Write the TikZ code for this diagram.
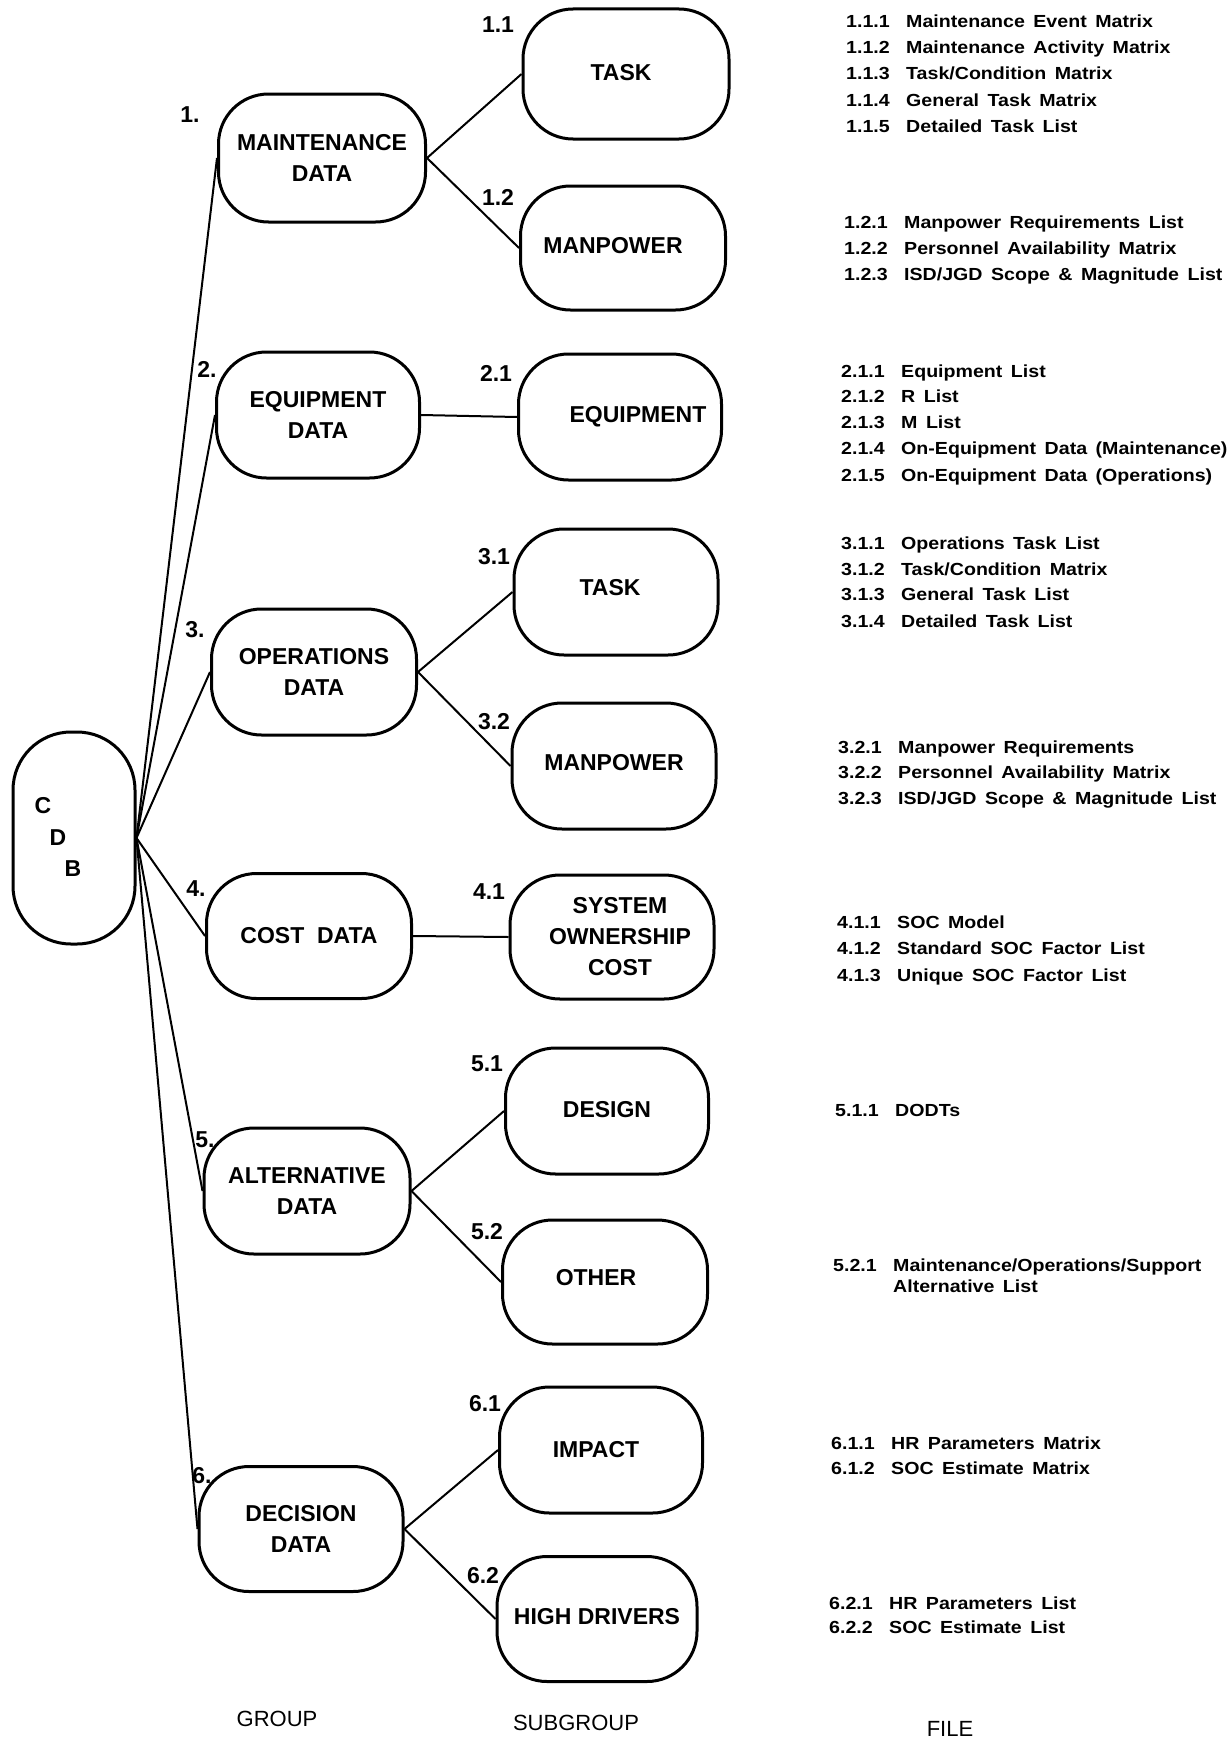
\documentclass[tikz,border=0pt]{standalone}
\usepackage{fontspec}
\setmainfont{Liberation Sans}
\newfontfamily\flfam[FakeStretch=1.12]{Liberation Sans}
\newcommand\bxfont{\fontsize{23}{31}\selectfont\bfseries}
\newcommand\flfont{\flfam\fontsize{17.5}{26}\selectfont\bfseries\spaceskip=8.5pt\relax}
\newcommand\btfont{\fontsize{22}{26}\selectfont}
\newcommand\fnum[1]{\makebox[60pt][l]{#1}}
\begin{document}
\begin{tikzpicture}[x=1pt,y=-1pt,
  bx/.style={draw, line width=3pt, rounded corners=50pt, minimum width=205pt,
    minimum height=126pt, inner sep=0pt, align=center, font=\bxfont},
  conn/.style={line width=2pt},
  num/.style={font=\bxfont, inner sep=0pt},
  fl/.style={anchor=base west, inner sep=0pt, font=\flfont, align=left},
  bt/.style={font=\btfont, inner sep=0pt}]
\useasboundingbox (0,0) rectangle (1228,1745);

% CDB
\node[draw, line width=3pt, rounded corners=58pt, minimum width=122pt,
  minimum height=212pt, inner sep=0pt] (cdb) at (74,838) {};
\node[num] (lc) at (43,806) {C};
\node[num] (ld) at (58,838) {D};
\node[num] (lb) at (73,869) {B};

% groups
\node[bx, minimum width=207pt, minimum height=128pt] (g1) at (322,158) {MAINTENANCE\\DATA};
\node[bx, minimum width=203pt] (g2) at (318,415) {\raisebox{0pt}{EQUIPMENT}\\DATA};
\node[bx] (g3) at (314,672) {OPERATIONS\\DATA};
\node[bx, minimum height=125pt] (g4) at (309,936) {COST\ \ DATA};
\node[bx, minimum width=206pt] (g5) at (307,1191) {ALTERNATIVE\\DATA};
\node[bx, minimum width=204pt, minimum height=125pt] (g6) at (301,1529) {DECISION\\DATA};

% subgroups
\node[bx, minimum width=206pt, minimum height=130pt] (s11) at (626,74) {\raisebox{4pt}{TASK}\hspace*{10pt}};
\node[bx, minimum height=124pt] (s12) at (623,248) {\raisebox{5pt}{MANPOWER}\hspace*{20pt}};
\node[bx, minimum width=203pt] (s21) at (620,417) {\hspace*{36pt}EQUIPMENT};
\node[bx, minimum width=204pt] (s31) at (616,592) {\raisebox{10pt}{TASK}\hspace*{12pt}};
\node[bx, minimum width=204pt] (s32) at (614,766) {\raisebox{8pt}{MANPOWER}};
\node[bx, minimum width=204pt, minimum height=124pt] (s41) at (612,937) {\hspace*{16pt}SYSTEM\\\hspace*{16pt}OWNERSHIP\\\hspace*{16pt}COST};
\node[bx, minimum width=203pt] (s51) at (607,1111) {\raisebox{4pt}{DESIGN}};
\node[bx, minimum height=124pt] (s52) at (605,1282) {\raisebox{10pt}{OTHER}\hspace*{18pt}};
\node[bx, minimum width=203pt] (s61) at (601,1450) {\raisebox{2pt}{IMPACT}\hspace*{10pt}};
\node[bx, minimum width=200pt, minimum height=125pt] (s62) at (597,1619) {\raisebox{6pt}{HIGH DRIVERS}};

% numbers
\node[num] (n1) at (190,115) {1.};
\node[num] (n11) at (498,25) {1.1};
\node[num] (n12) at (498,197) {1.2};
\node[num] (n2) at (207,369) {2.};
\node[num] (n21) at (496,373) {2.1};
\node[num] (n3) at (195,630) {3.};
\node[num] (n31) at (494,557) {3.1};
\node[num] (n32) at (494,722) {3.2};
\node[num] (n4) at (196,889) {4.};
\node[num] (n41) at (489,892) {4.1};
\node[num] (n5) at (205,1140) {5.};
\node[num] (n51) at (487,1064) {5.1};
\node[num] (n52) at (487,1232) {5.2};
\node[num] (n6) at (202,1476) {6.};
\node[num] (n61) at (485,1404) {6.1};
\node[num] (n62) at (483,1576) {6.2};

% connectors
\foreach \g in {g1,g2,g3,g4,g5,g6}
  \draw[conn] (cdb.east) -- (\g.west);
\draw[conn] (g1.east) -- (s11.west);
\draw[conn] (g1.east) -- (s12.west);
\draw[conn] (g2.east) -- (s21.west);
\draw[conn] (g3.east) -- (s31.west);
\draw[conn] (g3.east) -- (s32.west);
\draw[conn] (g4.east) -- (s41.west);
\draw[conn] (g5.east) -- (s51.west);
\draw[conn] (g5.east) -- (s52.west);
\draw[conn] (g6.east) -- (s61.west);
\draw[conn] (g6.east) -- (s62.west);

% files
\node[fl] (f111) at (846,28) {\fnum{1.1.1}Maintenance Event Matrix};
\node[fl] (f112) at (846,54) {\fnum{1.1.2}Maintenance Activity Matrix};
\node[fl] (f113) at (846,80) {\fnum{1.1.3}Task/Condition Matrix};
\node[fl] (f114) at (846,106) {\fnum{1.1.4}General Task Matrix};
\node[fl] (f115) at (846,132) {\fnum{1.1.5}Detailed Task List};

\node[fl] (f121) at (844,228.5) {\fnum{1.2.1}Manpower Requirements List};
\node[fl] (f122) at (844,254) {\fnum{1.2.2}Personnel Availability Matrix};
\node[fl] (f123) at (844,280) {\fnum{1.2.3}ISD/JGD Scope \& Magnitude List};

\node[fl] (f211) at (841,377.0) {\fnum{2.1.1}Equipment List};
\node[fl] (f212) at (841,402.6) {\fnum{2.1.2}R List};
\node[fl] (f213) at (841,428.2) {\fnum{2.1.3}M List};
\node[fl] (f214) at (841,454.9) {\fnum{2.1.4}On-Equipment Data (Maintenance)};
\node[fl] (f215) at (841,481.7) {\fnum{2.1.5}On-Equipment Data (Operations)};

\node[fl] (f311) at (841,549.6) {\fnum{3.1.1}Operations Task List};
\node[fl] (f312) at (841,575.2) {\fnum{3.1.2}Task/Condition Matrix};
\node[fl] (f313) at (841,600.8) {\fnum{3.1.3}General Task List};
\node[fl] (f314) at (841,627.5) {\fnum{3.1.4}Detailed Task List};

\node[fl] (f321) at (838,753.3) {\fnum{3.2.1}Manpower Requirements};
\node[fl] (f322) at (838,778.9) {\fnum{3.2.2}Personnel Availability Matrix};
\node[fl] (f323) at (838,804.5) {\fnum{3.2.3}ISD/JGD Scope \& Magnitude List};

\node[fl] (f411) at (837,928.1) {\fnum{4.1.1}SOC Model};
\node[fl] (f412) at (837,954.8) {\fnum{4.1.2}Standard SOC Factor List};
\node[fl] (f413) at (837,981.5) {\fnum{4.1.3}Unique SOC Factor List};

\node[fl] (f511) at (835,1116.3) {\fnum{5.1.1}DODTs};

\node[fl] (f521) at (833,1271.0) {\fnum{5.2.1}Maintenance/Operations/Support};
\node[fl] (f522) at (833,1292.1) {\fnum{}Alternative List};

\node[fl] (f611) at (831,1449.1) {\fnum{6.1.1}HR Parameters Matrix};
\node[fl] (f612) at (831,1474.8) {\fnum{6.1.2}SOC Estimate Matrix};

\node[fl] (f621) at (829,1609.5) {\fnum{6.2.1}HR Parameters List};
\node[fl] (f622) at (829,1633.9) {\fnum{6.2.2}SOC Estimate List};

% column titles
\node[bt] (tg) at (277,1719) {GROUP};
\node[bt] (ts) at (576,1723) {SUBGROUP};
\node[bt] (tf) at (950,1729) {FILE};
\end{tikzpicture}
\end{document}
